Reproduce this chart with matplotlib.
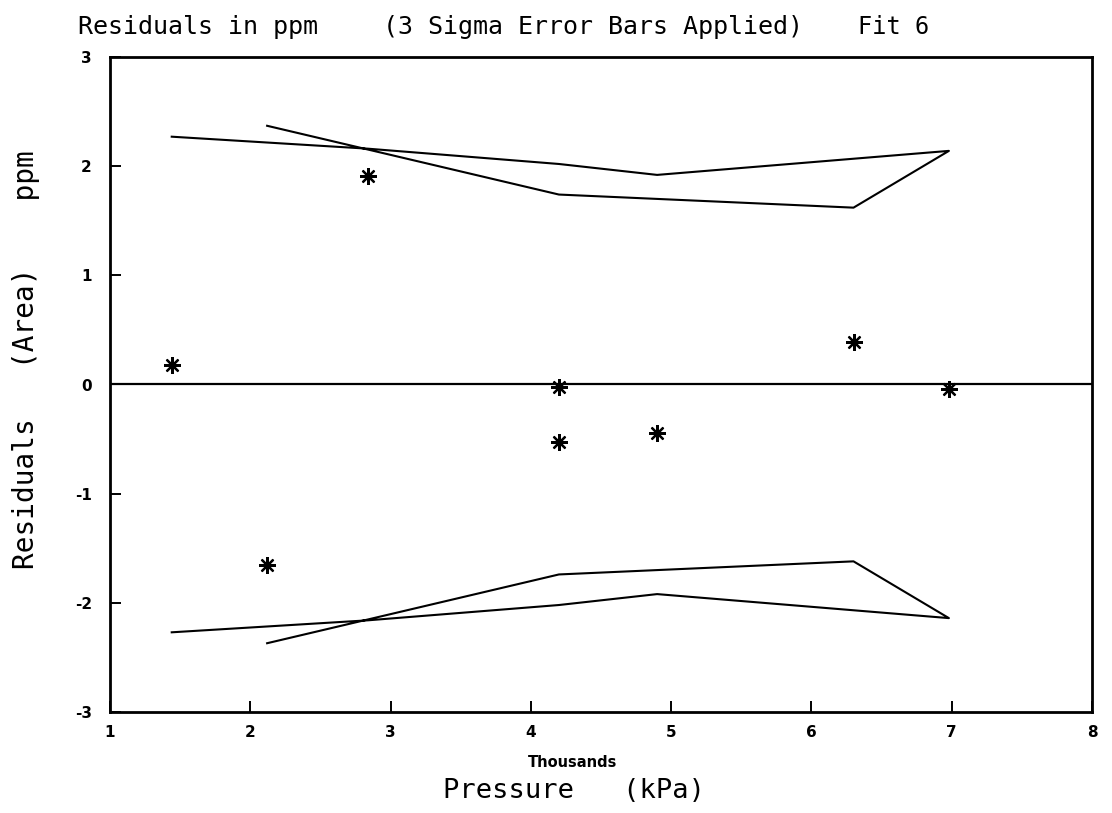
import numpy as np
import matplotlib
matplotlib.use("Agg")
import matplotlib.pyplot as plt

# pressure in thousands of kPa, in measuring order (up, then back down)
pressure = [1.44, 2.84, 4.20, 4.90, 6.98, 6.30, 4.20, 2.12]
# residuals in ppm
resid = [0.18, 1.91, -0.02, -0.44, -0.04, 0.39, -0.53, -1.65]
# 3 sigma error bar at each point
sig3 = [2.27, 2.16, 2.02, 1.92, 2.14, 1.62, 1.74, 2.37]

xticks = [1, 2, 3, 4, 5, 6, 7, 8]
yticks = [-3, -2, -1, 0, 1, 2, 3]

W, H = 1112, 813
mono = "DejaVu Sans Mono"
fig = plt.figure(figsize=(W / 100, H / 100), dpi=100)
ax = fig.add_axes([110 / W, 1 - 712 / H, 982 / W, 655 / H])

p = np.array(pressure)
s = np.array(sig3)
ax.plot(p, s, color="black", lw=1.5)
ax.plot(p, -s, color="black", lw=1.5)
ax.axhline(0, color="black", lw=1.6)
ax.plot(p, resid, ls="none", marker=(8, 2, 0), ms=12, mew=1.6, color="black")

ax.set_xlim(1, 8)
ax.set_ylim(-3, 3)
ax.set_xticks(xticks)
ax.set_yticks(yticks)
ax.set_xticklabels([str(t) for t in xticks], fontsize=11, fontweight="bold")
ax.set_yticklabels([str(t) for t in yticks], fontsize=11, fontweight="bold")
ax.tick_params(axis="both", direction="in", length=8, width=1.4)
ax.tick_params(axis="x", pad=9)
ax.tick_params(axis="y", pad=13)
for sp in ax.spines.values():
    sp.set_linewidth(2)

# title pieces
fig.text(78 / W, 1 - 27 / H, "Residuals in ppm", fontsize=18, family=mono, va="center")
fig.text(383 / W, 1 - 27 / H, "(3 Sigma Error Bars Applied)", fontsize=18,
         family=mono, va="center")
fig.text(858 / W, 1 - 27 / H, "Fit 6", fontsize=17, family=mono, va="center")

fig.text(573 / W, 1 - 762 / H, "Thousands", fontsize=10.5, fontweight="bold",
         ha="center", va="center")
fig.text(574 / W, 1 - 791 / H, "Pressure   (kPa)", fontsize=19.5, family=mono,
         ha="center", va="center")
fig.text(26 / W, 1 - 360 / H, "Residuals   (Area)    ppm", fontsize=20, family=mono,
         rotation=90, ha="center", va="center")

fig.savefig("out.png", dpi=100, facecolor="white")
